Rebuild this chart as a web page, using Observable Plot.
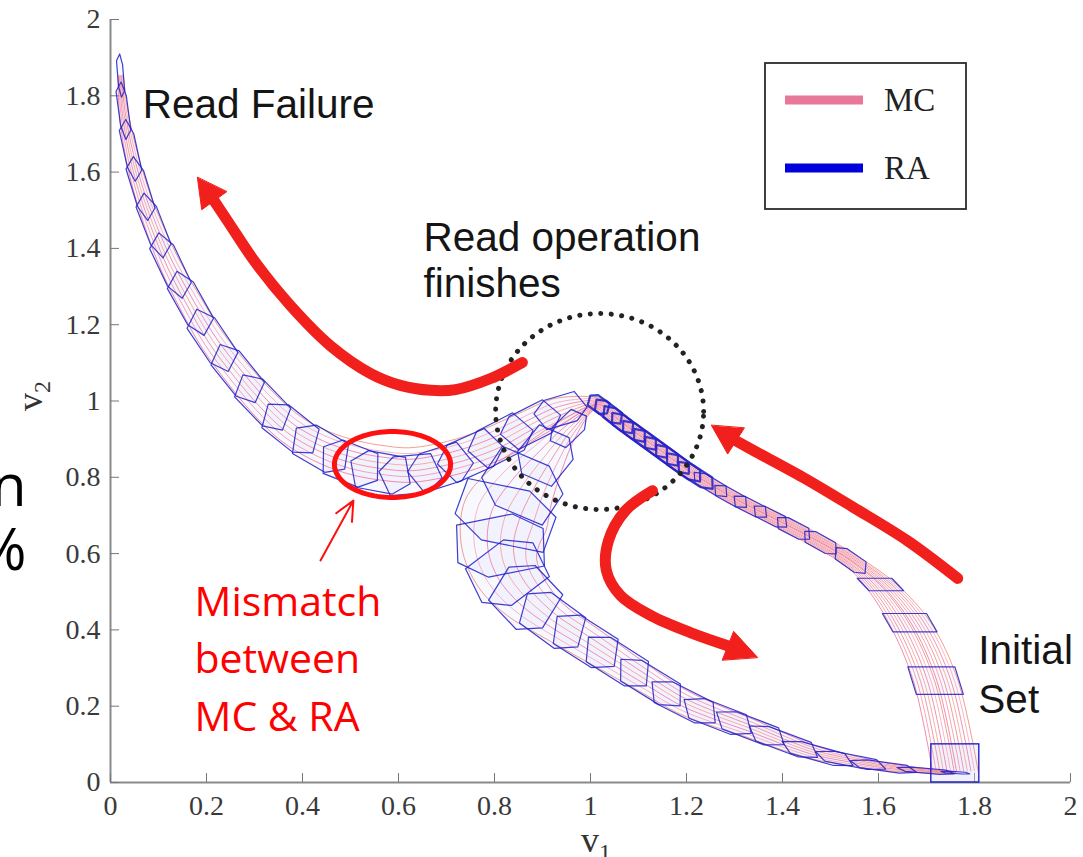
<!DOCTYPE html>
<html>
<head>
<meta charset="utf-8">
<script src="https://cdn.jsdelivr.net/npm/d3@7"></script>
<script src="https://cdn.jsdelivr.net/npm/@observablehq/plot@0.6"></script>
<style>
  html, body { margin: 0; padding: 0; background: #fff; }
  svg { display: block; }
</style>
</head>
<body>
<div id="chart"></div>
<script>
// ---- axes -------------------------------------------------------------
const xTicks = [0, 0.2, 0.4, 0.6, 0.8, 1, 1.2, 1.4, 1.6, 1.8, 2];
const yTicks = [0, 0.2, 0.4, 0.6, 0.8, 1, 1.2, 1.4, 1.6, 1.8, 2];

// ---- initial set of the read operation ----------------------------------
const initialSet = { v1: [1.71, 1.81], v2: [0, 0.1] };

// ---- reachable sets (RA) along each branch -------------------------------
// [v1, v2, half-length along the flow, half-width across (v1 units),
//  fixed angle of the across edge in degrees or null = perpendicular,
//  shift of the MC runs across the set (in half-widths)]
// first row of riseSets is where the runs leave the initial set
const riseSets = [
  [1.760, 0.030, 0.020, 0.050, 0],
  [1.719, 0.267, 0.030, 0.049, 0],
  [1.665, 0.419, 0.022, 0.046, 0],
  [1.604, 0.519, 0.018, 0.036, 0],
  [1.542, 0.582, 0.040, 0.016, null],
  [1.479, 0.629, 0.040, 0.015, null],
  [1.423, 0.666, 0.040, 0.015, null],
  [1.375, 0.697, 0.040, 0.014, null],
  [1.333, 0.723, 0.040, 0.014, null],
  [1.292, 0.750, 0.040, 0.014, null],
  [1.250, 0.781, 0.042, 0.014, null],
  [1.219, 0.805, 0.045, 0.015, null],
  [1.194, 0.826, 0.045, 0.015, null],
  [1.171, 0.847, 0.045, 0.015, null],
  [1.148, 0.868, 0.045, 0.015, null],
  [1.125, 0.889, 0.045, 0.015, null],
  [1.102, 0.910, 0.045, 0.015, null],
  [1.079, 0.931, 0.045, 0.015, null],
  [1.058, 0.951, 0.040, 0.015, null],
  [1.0375, 0.972, 0.035, 0.015, null],
  [1.017, 0.991, 0.025, 0.015, null]
];
// rising sets from this row on are packed into one dense band
const denseFrom = 11;

// branch towards read failure (v1 -> 0, v2 -> 2)
const failSets = [
  [0.9375, 0.975, 0.055, 0.030, null, 0],
  [0.875, 0.938, 0.065, 0.035, null, 0],
  [0.8125, 0.896, 0.070, 0.040, null, 0],
  [0.750, 0.857, 0.070, 0.040, null, 0.15],
  [0.6875, 0.826, 0.068, 0.040, null, 0.35],
  [0.625, 0.807, 0.065, 0.040, null, 0.5],
  [0.5625, 0.813, 0.065, 0.040, null, 0.5],
  [0.500, 0.836, 0.065, 0.040, null, 0.35],
  [0.4375, 0.875, 0.065, 0.038, null, 0.15],
  [0.375, 0.928, 0.068, 0.036, null, 0],
  [0.317, 0.996, 0.070, 0.034, null, 0],
  [0.265, 1.072, 0.070, 0.032, null, 0],
  [0.2125, 1.159, 0.072, 0.030, null, 0],
  [0.1667, 1.256, 0.072, 0.027, null, 0],
  [0.125, 1.355, 0.072, 0.024, null, 0],
  [0.0896, 1.460, 0.070, 0.020, null, 0],
  [0.0625, 1.557, 0.068, 0.017, null, 0],
  [0.0417, 1.657, 0.065, 0.014, null, 0],
  [0.027, 1.761, 0.060, 0.010, null, 0],
  [0.021, 1.853, 0.045, 0.006, null, 0]
];

// branch where the read finishes correctly (back towards v2 -> 0)
const passSets = [
  [0.954, 0.928, 0.045, 0.025, null],
  [0.906, 0.857, 0.060, 0.050, null],
  [0.858, 0.778, 0.065, 0.080, null],
  [0.823, 0.700, 0.065, 0.100, null],
  [0.8125, 0.621, 0.065, 0.090, null],
  [0.827, 0.550, 0.065, 0.075, null],
  [0.865, 0.485, 0.070, 0.060, null],
  [0.921, 0.425, 0.075, 0.045, null],
  [0.990, 0.370, 0.078, 0.040, null],
  [1.056, 0.317, 0.078, 0.035, null],
  [1.125, 0.262, 0.078, 0.030, null],
  [1.194, 0.210, 0.078, 0.028, null],
  [1.265, 0.173, 0.078, 0.025, null],
  [1.333, 0.142, 0.078, 0.022, null],
  [1.402, 0.107, 0.078, 0.019, null],
  [1.473, 0.076, 0.078, 0.015, null],
  [1.542, 0.058, 0.075, 0.012, null],
  [1.610, 0.042, 0.070, 0.009, null],
  [1.698, 0.031, 0.060, 0.005, null],
  [1.760, 0.026, 0.030, 0.002, null]
];

// ---- Monte Carlo runs (MC): offset across the rising bundle, branch taken,
// offset across that branch
const runRise   = [-0.95, -0.8, -0.65, -0.5, -0.35, -0.2, -0.05, 0.05, 0.2, 0.35, 0.5, 0.65, 0.8, 0.95];
const runBranch = ["pass", "pass", "pass", "pass", "pass", "pass", "pass",
                   "fail", "fail", "fail", "fail", "fail", "fail", "fail"];
const runAcross = [-0.9, -0.6, -0.3, 0, 0.3, 0.6, 0.9, -0.9, -0.6, -0.3, 0, 0.3, 0.6, 0.9];

// ---- annotations ---------------------------------------------------------
const failArrow = [[0.858, 1.101], [0.792, 1.059], [0.719, 1.030], [0.667, 1.028], [0.604, 1.041],
  [0.542, 1.072], [0.458, 1.145], [0.375, 1.250], [0.302, 1.363], [0.246, 1.468], [0.2125, 1.531]];
const failTip = [0.181, 1.586];
const riseArrow = [[1.765, 0.535], [1.660, 0.634], [1.548, 0.721], [1.444, 0.799], [1.340, 0.870], [1.298, 0.899]];
const riseTip = [1.252, 0.936];
const passArrow = [[1.129, 0.765], [1.073, 0.713], [1.0375, 0.634], [1.033, 0.556], [1.0625, 0.490],
  [1.125, 0.438], [1.208, 0.393], [1.292, 0.356]];
const passTip = [1.348, 0.328];
const pointer = { v1: [0.4375, 0.506], v2: [0.582, 0.739] };
const mismatchRing = { center: [0.5875, 0.8336], radius: [0.121, 0.0865] };
const finishRing = { center: [1.019, 0.9725], radius: [0.2167, 0.2569] };

const blackNotes = [
  { text: "Read Failure", v1: 0.067, v2: 1.776 },
  { text: "Read operation", v1: 0.652, v2: 1.428 },
  { text: "finishes", v1: 0.652, v2: 1.307 },
  { text: "Initial", v1: 1.808, v2: 0.345 },
  { text: "Set", v1: 1.808, v2: 0.216 }
];
const redNotes = [
  { text: "Mismatch", v1: 0.175, v2: 0.472 },
  { text: "between", v1: 0.175, v2: 0.322 },
  { text: "MC & RA", v1: 0.175, v2: 0.170 }
];
const edgeNotes = [
  { text: "n", v1: -0.175, v2: 0.773 },
  { text: "%", v1: -0.175, v2: 0.605 }
];

// ---- layout and style ------------------------------------------------------
const WIDTH = 1083, HEIGHT = 857;
const M = { left: 110, right: 13, top: 19, bottom: 75 };
const BLUE = "#2323c8";
const SET_FILL = "#dadaff";
const PINKS = ["#f0668f", "#f38aa2", "#ec7a8a", "#f29a86", "#ef6f9a", "#f5a0b0", "#ee8070"];
const RED = "#f1201c";
const SERIF = "'Liberation Serif', 'Times New Roman', serif";
const SANS = "'Liberation Sans', Arial, sans-serif";
const SLIDE = "'Open Sans', 'Noto Sans', sans-serif";

// screen length of one v2 unit, expressed in v1 units
const ky = ((HEIGHT - M.top - M.bottom) / 2) / ((WIDTH - M.left - M.right) / 2);

// local frame of each set: flow direction t and across direction u
function frames(rows, before) {
  return rows.map((r, i) => {
    const p = i > 0 ? rows[i - 1] : (before || r);
    const n = i < rows.length - 1 ? rows[i + 1] : r;
    const a = Math.atan2((n[1] - p[1]) * ky, n[0] - p[0]);
    const th = r[4] != null ? r[4] * Math.PI / 180 : a - Math.PI / 2;
    return { c: [r[0], r[1]], L: r[2], W: r[3], shift: r[5] || 0,
             t: [Math.cos(a), Math.sin(a)], u: [Math.cos(th), Math.sin(th)], fixed: r[4] != null };
  });
}
function at(f, s, q) {
  const dx = s * f.L * f.t[0] + q * f.W * f.u[0];
  const dy = s * f.L * f.t[1] + q * f.W * f.u[1];
  return { x: f.c[0] + dx, y: f.c[1] + dy / ky };
}

const riseF = frames(riseSets, null);
const peak = riseSets[riseSets.length - 1];
const failF = frames(failSets, peak);
const passF = frames(passSets, peak);

// polygon outlines of the reachable sets (local coordinates: along, across)
const HEX = [[1, 0.3], [0.5, 1], [-0.7, 1], [-1, -0.3], [-0.5, -1], [0.7, -1]];
const QUAD = [[1, 1], [-1, 1], [-1, -1], [1, -1]];
const setPts = [];
let sid = 0;
const allSets = [
  ...riseF.slice(1).map((f, i) => ({ f, dense: i + 1 >= denseFrom })),
  ...failF.map(f => ({ f, dense: false })),
  ...passF.map(f => ({ f, dense: false }))
];
allSets.forEach(({ f, dense }) => {
  (f.fixed ? QUAD : HEX).forEach(([s, q]) => setPts.push({ set: sid, w: dense ? 2.2 : 1.2, ...at(f, s, q) }));
  sid++;
});

// Monte Carlo trajectories
const runPts = [];
runRise.forEach((b, j) => {
  riseF.forEach(f => runPts.push({ run: j, ...at(f, 0, b + f.shift) }));
  (runBranch[j] === "fail" ? failF : passF).forEach(f => runPts.push({ run: j, ...at(f, 0, runAcross[j] + f.shift) }));
});

// filled arrow heads
function head(shaft, tip, id) {
  const b = shaft[shaft.length - 1];
  const dx = tip[0] - b[0], dy = (tip[1] - b[1]) * ky;
  const len = Math.hypot(dx, dy);
  const hw = 0.032; // half width of the head, v1 units
  const px = -dy / len * hw, py = dx / len * hw;
  const back = [b[0] - dx / len * 0.006, b[1] - dy / len * 0.006 / ky];
  return [
    { id, x: tip[0], y: tip[1] },
    { id, x: back[0] + px, y: back[1] + py / ky },
    { id, x: back[0] - px, y: back[1] - py / ky }
  ];
}
const heads = [...head(failArrow, failTip, 0), ...head(riseArrow, riseTip, 1), ...head(passArrow, passTip, 2)];
const shafts = [
  ...failArrow.map(p => ({ id: 0, x: p[0], y: p[1] })),
  ...riseArrow.map(p => ({ id: 1, x: p[0], y: p[1] })),
  ...passArrow.map(p => ({ id: 2, x: p[0], y: p[1] }))
];
function ring({ center, radius }) {
  return d3.range(0, 121).map(i => {
    const a = i / 120 * 2 * Math.PI;
    return { x: center[0] + radius[0] * Math.cos(a), y: center[1] + radius[1] * Math.sin(a) };
  });
}
const tickText = d => String(d);

const plot = Plot.plot({
  width: WIDTH,
  height: HEIGHT,
  marginLeft: M.left, marginRight: M.right, marginTop: M.top, marginBottom: M.bottom,
  x: { domain: [0, 2] },
  y: { domain: [0, 2] },
  style: { background: "#fff", overflow: "visible" },
  marks: [
    // axes
    Plot.ruleY([0], { stroke: "#8a8a8a", strokeWidth: 2 }),
    Plot.ruleX([0], { stroke: "#8a8a8a", strokeWidth: 2 }),
    Plot.axisX(xTicks, { tickSize: -9, tickFormat: () => "", stroke: "#777", label: null }),
    Plot.axisY(yTicks, { tickSize: -9, tickFormat: () => "", stroke: "#777", label: null }),
    Plot.axisX(xTicks, { tickSize: 0, tickPadding: 13, tickFormat: tickText, fontSize: 28, fontFamily: SERIF, fill: "#3a3a3a", label: null }),
    Plot.axisY(yTicks, { tickSize: 0, tickPadding: 10, tickFormat: tickText, fontSize: 28, fontFamily: SERIF, fill: "#3a3a3a", label: null }),

    // reachable sets: fill under the runs
    Plot.rect([initialSet], { x1: d => d.v1[0], x2: d => d.v1[1], y1: d => d.v2[0], y2: d => d.v2[1], fill: SET_FILL, fillOpacity: 0.35 }),
    Plot.line(setPts, { x: "x", y: "y", z: "set", curve: "linear-closed", fill: SET_FILL, fillOpacity: 0.2, stroke: "none" }),

    // Monte Carlo runs
    Plot.line(runPts, { x: "x", y: "y", z: "run", curve: "catmull-rom", stroke: d => PINKS[d.run % PINKS.length], strokeWidth: 0.9, strokeOpacity: 0.85 }),

    // reachable sets: outlines on top
    Plot.rect([initialSet], { x1: d => d.v1[0], x2: d => d.v1[1], y1: d => d.v2[0], y2: d => d.v2[1], fill: "none", stroke: BLUE, strokeWidth: 1.4 }),
    Plot.line(setPts, { x: "x", y: "y", z: "set", curve: "linear-closed", fill: "none", stroke: BLUE, strokeWidth: "w", strokeOpacity: 0.88 }),

    // annotations
    Plot.line(ring(finishRing), { x: "x", y: "y", stroke: "#222", strokeWidth: 5, strokeDasharray: "0.1 10.4", strokeLinecap: "round" }),
    Plot.line(ring(mismatchRing), { x: "x", y: "y", stroke: "#ff1010", strokeWidth: 5 }),
    Plot.line(shafts, { x: "x", y: "y", z: "id", curve: "catmull-rom", stroke: RED, strokeWidth: 11 }),
    Plot.line(heads, { x: "x", y: "y", z: "id", curve: "linear-closed", fill: RED, stroke: RED, strokeWidth: 1 }),
    Plot.arrow([pointer], { x1: d => d.v1[0], x2: d => d.v1[1], y1: d => d.v2[0], y2: d => d.v2[1], stroke: "#ff1010", strokeWidth: 2, headLength: 16, headAngle: 50 }),

    Plot.text(blackNotes, { x: "v1", y: "v2", text: "text", textAnchor: "start", fontSize: 40.5, fontFamily: SANS, fill: "#151515" }),
    Plot.text(redNotes, { x: "v1", y: "v2", text: "text", textAnchor: "start", fontSize: 41, fontFamily: SLIDE, fill: "#ff0000" }),
    Plot.text(edgeNotes, { x: "v1", y: "v2", text: "text", textAnchor: "end", fontSize: 58, fontFamily: SLIDE, fill: "#000" })
  ]
});

document.getElementById("chart").appendChild(plot);

// legend and axis titles
const svg = d3.select(plot);
const lg = svg.append("g").attr("text-anchor", "start");
lg.append("rect").attr("x", 765).attr("y", 63).attr("width", 201).attr("height", 146)
  .attr("fill", "#fff").attr("stroke", "#2c2c2c").attr("stroke-width", 1.8);
[["MC", "#e8789a", 100], ["RA", "#0000dd", 168]].forEach(([name, color, y]) => {
  lg.append("line").attr("x1", 785).attr("x2", 863).attr("y1", y).attr("y2", y)
    .attr("stroke", color).attr("stroke-width", 9);
  lg.append("text").attr("x", 884).attr("y", y + 11).attr("text-anchor", "start").text(name)
    .attr("font-family", SERIF).attr("font-size", 33).attr("fill", "#222");
});

const xt = svg.append("text").attr("x", 596).attr("y", 852).attr("text-anchor", "middle")
  .attr("font-family", SERIF).attr("font-size", 36).attr("fill", "#333");
xt.append("tspan").text("v");
xt.append("tspan").attr("font-size", 24).attr("dy", 8).text("1");

const yt = svg.append("text").attr("transform", "translate(42,396) rotate(-90)").attr("text-anchor", "middle")
  .attr("font-family", SERIF).attr("font-size", 36).attr("fill", "#333");
yt.append("tspan").text("v");
yt.append("tspan").attr("font-size", 24).attr("dy", 8).text("2");
</script>
</body>
</html>
